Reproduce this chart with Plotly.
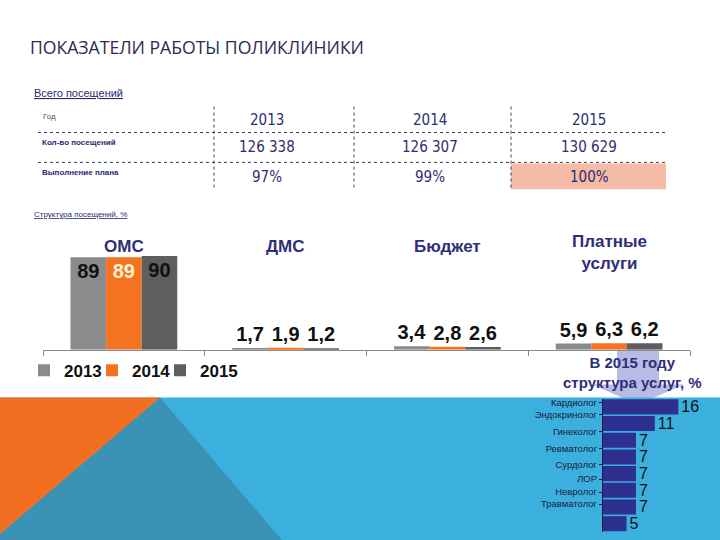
import plotly.graph_objects as go

# ---------------- data ----------------
years = ["2013", "2014", "2015"]
visits = [126338, 126307, 130629]
plan_pct = [97, 99, 100]

categories = ["ОМС", "ДМС", "Бюджет", "Платные услуги"]
share_2013 = [89, 1.7, 3.4, 5.9]
share_2014 = [89, 1.9, 2.8, 6.3]
share_2015 = [90, 1.2, 2.6, 6.2]

specialties = ["Кардиолог", "Эндокринолог", "Гинеколог", "Ревматолог",
               "Сурдолог", "ЛОР", "Невролог", "Травматолог"]
services_2015 = [16, 11, 7, 7, 7, 7, 7, 5]

# ---------------- helpers ----------------
W, H = 720, 540
def px(x):
    return x / W
def py(y):
    return 1 - y / H
def fmt(v):
    return f"{v:g}".replace(".", ",")
def thousands(v):
    return f"{v:,}".replace(",", " ")

NAVY = "#2e2e7a"
FONT = "Liberation Sans, Arial, sans-serif"
TABLE_FONT = "DejaVu Sans Condensed, Liberation Sans Narrow, Liberation Sans, Arial, sans-serif"

fig = go.Figure()

# ---------------- main grouped bar chart ----------------
series = [("2013", share_2013, "#8a8b8d", "#111111"),
          ("2014", share_2014, "#f47321", "#fff2d2"),
          ("2015", share_2015, "#5e5e5e", "#111111")]
for name, vals, col, intxt in series:
    fig.add_trace(go.Bar(
        name=name, x=categories, y=vals,
        marker=dict(color=col, line=dict(width=0)),
        text=[fmt(v) for v in vals],
        textposition=["inside" if v > 30 else "outside" for v in vals],
        insidetextanchor="end",
        insidetextfont=dict(color=intxt, size=20, family=FONT, weight="bold"),
        outsidetextfont=dict(color="#111111", size=20, family=FONT, weight="bold"),
        constraintext="none", cliponaxis=False,
        xaxis="x", yaxis="y", hoverinfo="skip",
    ))
# empty legend slot so the last legend entry is not clipped
fig.add_trace(go.Scatter(x=[None], y=[None], mode="markers", name="\u00a0",
                         marker=dict(color="rgba(0,0,0,0)", size=1),
                         xaxis="x", yaxis="y", hoverinfo="skip"))

# ---------------- horizontal bars: structure of paid services ----------------
fig.add_trace(go.Bar(
    x=services_2015, y=list(range(len(services_2015))), orientation="h",
    marker=dict(color="#2d2f91", line=dict(width=0)),
    text=[str(v) for v in services_2015], textposition="outside",
    outsidetextfont=dict(color="#111111", size=16, family=FONT),
    constraintext="none", cliponaxis=False, width=0.9,
    xaxis="x2", yaxis="y2", showlegend=False, hoverinfo="skip",
))

label_pos = [-0.26, 0.45, 1.47, 2.48, 3.44, 4.33, 5.11, 5.83]

# ---------------- background shapes ----------------
shapes = []
# lavender arrow
shapes.append(dict(type="path", xref="paper", yref="paper", layer="below",
                   path=(f"M{px(617)},{py(349)} L{px(659)},{py(349)} L{px(659)},{py(384)} "
                         f"L{px(684)},{py(384)} L{px(638)},{py(404)} L{px(592)},{py(384)} "
                         f"L{px(617)},{py(384)} Z"),
                   fillcolor="rgba(160,166,220,0.75)", line=dict(width=0)))
# light blue band
shapes.append(dict(type="rect", xref="paper", yref="paper", layer="below",
                   x0=0, x1=1, y0=0, y1=py(397),
                   fillcolor="#3bb0de", line=dict(width=0)))
# teal triangle
shapes.append(dict(type="path", xref="paper", yref="paper", layer="below",
                   path=f"M{px(160)},{py(397)} L{px(282)},{py(540)} L0,{py(540)} L0,{py(534)} Z",
                   fillcolor="#3a93b4", line=dict(width=0)))
# orange triangle
shapes.append(dict(type="path", xref="paper", yref="paper", layer="below",
                   path=f"M0,{py(397)} L{px(160)},{py(397)} L0,{py(534)} Z",
                   fillcolor="#f26f21", line=dict(width=0)))

# ---------------- table ----------------
col_centers = [267, 430, 589]
dividers = [214, 354, 511]
shapes.append(dict(type="rect", xref="paper", yref="paper", layer="below",
                   x0=px(511), x1=px(666), y0=py(188), y1=py(162),
                   fillcolor="#f4bba6", line=dict(width=0)))
for yl in [131, 161]:
    shapes.append(dict(type="line", xref="paper", yref="paper", layer="below",
                       x0=px(38), x1=px(666), y0=py(yl), y1=py(yl),
                       line=dict(color="#3a3a5a", width=1, dash="dot")))
for xl in dividers:
    shapes.append(dict(type="line", xref="paper", yref="paper", layer="below",
                       x0=px(xl), x1=px(xl), y0=py(105), y1=py(187),
                       line=dict(color="#3a3a5a", width=1, dash="dot")))

annotations = []
def ann(text, x, y, size, color=NAVY, family=FONT, weight="normal", xanchor="left", xref="paper"):
    annotations.append(dict(text=text, x=x, y=y, xref=xref, yref="paper",
                            xanchor=xanchor, yanchor="middle", showarrow=False,
                            font=dict(size=size, color=color, family=family, weight=weight)))

ann("ПОКАЗАТЕЛИ РАБОТЫ ПОЛИКЛИНИКИ", px(28), py(45), 17.6, color="#2a2a50",
    family="Open Sans, DejaVu Sans, sans-serif")
ann("<u>Всего посещений</u>", px(32), py(91), 11, color="#2a2a70")
ann("Год", px(41), py(115), 8, color="#555555")
ann("Кол-во посещений", px(40), py(141), 8, color="#2a2a70", weight="bold")
ann("Выполнение плана", px(40), py(171), 8, color="#2a2a70", weight="bold")
for cx, yr, vv, pp in zip(col_centers, years, visits, plan_pct):
    ann(yr, px(cx), py(118), 15, color="#2d2d6e", family=TABLE_FONT, xanchor="center")
    ann(thousands(vv), px(cx), py(146), 15, color="#2d2d6e", family=TABLE_FONT, xanchor="center")
    ann(f"{pp}%", px(cx), py(176), 15, color="#2d2d6e", family=TABLE_FONT, xanchor="center")
ann("<u>Структура посещений, %</u>", px(32), py(213), 8, color="#2a2a70")

# category titles above the grouped bars
for c in categories:
    label = c.replace(" ", "<br>")
    yy = 251 if "<br>" in label else 245
    ann(label, c, py(yy), 17, weight="bold", xanchor="center", xref="x")

# arrow caption
ann("В 2015 году<br>структура услуг, %", px(632), py(372), 15, color=NAVY,
    weight="bold", xanchor="center")

fig.update_layout(
    width=W, height=H, autosize=False,
    margin=dict(l=0, r=0, t=0, b=0),
    paper_bgcolor="white", plot_bgcolor="rgba(0,0,0,0)",
    barmode="group", bargap=0.34, bargroupgap=0,
    shapes=shapes, annotations=annotations,
    showlegend=True,
    legend=dict(orientation="h", x=px(24), y=py(352), xanchor="left", yanchor="top",
                font=dict(size=17, family=FONT, color="#111111", weight="bold"),
                entrywidth=23, entrywidthmode="pixels", bgcolor="rgba(0,0,0,0)",
                itemclick=False, itemdoubleclick=False),
    xaxis=dict(domain=[px(43), px(690)], type="category", showticklabels=False,
               showline=True, linecolor="#8a8a8a", linewidth=1,
               ticks="outside", tickson="boundaries", ticklen=5, tickcolor="#8a8a8a",
               showgrid=False, zeroline=False, fixedrange=True),
    yaxis=dict(domain=[py(349), py(230)], range=[0, 114], visible=False, fixedrange=True),
    xaxis2=dict(domain=[px(603), px(700)], range=[0, 20.6], anchor="y2",
                visible=False, fixedrange=True),
    yaxis2=dict(domain=[py(532), py(398)], range=[7.5, -0.5], anchor="x2",
                tickvals=label_pos, ticktext=specialties,
                tickfont=dict(size=9.5, family=FONT, color="#1b1b3a"),
                showline=True, linecolor="#1b1b3a", linewidth=1,
                ticks="outside", ticklen=3, tickcolor="#1b1b3a",
                showgrid=False, zeroline=False, fixedrange=True),
)

fig.write_html("out.html", config={"displayModeBar": False},
               post_script="document.body.style.margin='0px';")
